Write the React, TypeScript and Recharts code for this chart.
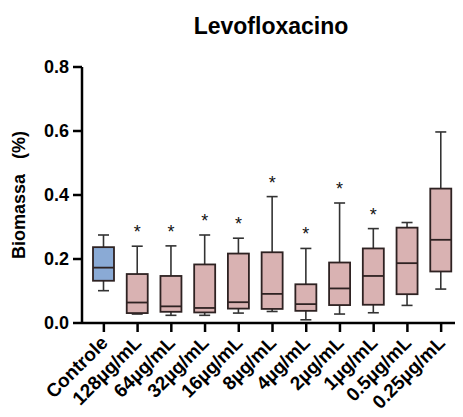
import React from 'react';
import { ComposedChart, Bar, XAxis, YAxis, Label } from 'recharts';

const categories = ['Controle', '128µg/mL', '64µg/mL', '32µg/mL', '16µg/mL', '8µg/mL', '4µg/mL', '2µg/mL', '1µg/mL', '0.5µg/mL', '0.25µg/mL'];
const mins = [0.101, 0.028, 0.024, 0.024, 0.031, 0.036, 0.010, 0.028, 0.032, 0.055, 0.106];
const q1s = [0.132, 0.031, 0.035, 0.033, 0.045, 0.044, 0.038, 0.056, 0.057, 0.090, 0.161];
const medians = [0.173, 0.064, 0.052, 0.047, 0.065, 0.091, 0.059, 0.108, 0.147, 0.187, 0.260];
const q3s = [0.237, 0.153, 0.147, 0.183, 0.217, 0.221, 0.121, 0.189, 0.233, 0.298, 0.420];
const maxs = [0.275, 0.240, 0.241, 0.275, 0.265, 0.395, 0.233, 0.375, 0.295, 0.314, 0.597];
const significant = [false, true, true, true, true, true, true, true, true, false, false];
const yTicks = [0, 0.2, 0.4, 0.6, 0.8];

const data = categories.map((name, i) => ({
  name,
  min: mins[i],
  q1: q1s[i],
  median: medians[i],
  q3: q3s[i],
  max: maxs[i],
  sig: significant[i],
  range: [mins[i], maxs[i]],
}));

const FONT = '"Liberation Sans", Arial, Helvetica, sans-serif';

const BoxShape = (props: any) => {
  const { x, y, width, height, payload, index } = props;
  if (!payload) return null;
  const top = Math.min(y, y + height);
  const bottom = Math.max(y, y + height);
  const { min, max, q1, q3, median, sig } = payload;
  const pix = (v: number) => bottom - ((v - min) / (max - min)) * (bottom - top);
  const cx = x + width / 2;
  const capW = 11;
  const fill = index === 0 ? '#8aaad5' : '#d9b2b2';
  const stroke = '#2e2222';
  return (
    <g>
      <line x1={cx} x2={cx} y1={pix(max)} y2={pix(q3)} stroke="#333" strokeWidth={1.6} />
      <line x1={cx} x2={cx} y1={pix(q1)} y2={pix(min)} stroke="#333" strokeWidth={1.6} />
      <line x1={cx - capW / 2} x2={cx + capW / 2} y1={pix(max)} y2={pix(max)} stroke="#333" strokeWidth={1.6} />
      <line x1={cx - capW / 2} x2={cx + capW / 2} y1={pix(min)} y2={pix(min)} stroke="#333" strokeWidth={1.6} />
      <rect x={x} y={pix(q3)} width={width} height={pix(q1) - pix(q3)} fill={fill} stroke={stroke} strokeWidth={1.8} />
      <line x1={x} x2={x + width} y1={pix(median)} y2={pix(median)} stroke={stroke} strokeWidth={1.8} />
      {sig && (
        <text x={cx} y={pix(max) - 8} textAnchor="middle" fontFamily={FONT} fontSize={18} fill="#111">*</text>
      )}
    </g>
  );
};

const XTick = (props: any) => {
  const { x, y, payload } = props;
  return (
    <g transform={`translate(${x + 5},${y + 10})`}>
      <text x={0} y={0} textAnchor="end" transform="rotate(-45)" fontFamily={FONT} fontWeight="bold" fontSize={19} fill="#000">
        {payload.value}
      </text>
    </g>
  );
};

export default function App() {
  return (
    <div style={{ position: 'relative', width: 455, height: 409 }}>
      <div
        style={{
          position: 'absolute',
          left: 0,
          width: 526,
          top: 5,
          textAlign: 'center',
          fontFamily: FONT,
          fontWeight: 'bold',
          fontSize: 23,
          color: '#000',
          lineHeight: '26px',
        }}
      >
        Levofloxacino
      </div>
      <ComposedChart width={455} height={409} data={data} margin={{ top: 59, right: 0, bottom: 0, left: 0 }}>
        <XAxis
          dataKey="name"
          interval={0}
          padding={{ left: 5, right: 5 }}
          height={94}
          axisLine={{ stroke: '#000', strokeWidth: 2.5 }}
          tickLine={{ stroke: '#000', strokeWidth: 2.5 }}
          tickSize={9}
          tick={<XTick />}
        />
        <YAxis
          domain={[0, 0.8]}
          ticks={yTicks}
          width={74}
          interval={0}
          tickFormatter={(v: number) => v.toFixed(1)}
          axisLine={{ stroke: '#000', strokeWidth: 2.5 }}
          tickLine={{ stroke: '#000', strokeWidth: 2.5 }}
          tickSize={9}
          tickMargin={4}
          tick={{ fill: '#000', fontFamily: FONT, fontWeight: 'bold', fontSize: 18 }}
        >
          <Label
            content={(p: any) => {
              const vb = p.viewBox || {};
              const cy = vb.y + vb.height / 2;
              return (
                <text
                  x={17}
                  y={cy}
                  transform={`rotate(-90, 17, ${cy})`}
                  textAnchor="middle"
                  fontFamily={FONT}
                  fontWeight="bold"
                  fontSize={18}
                  fill="#000"
                  style={{ whiteSpace: 'pre' }}
                >
                  {'Biomassa   (%)'}
                </text>
              );
            }}
          />
        </YAxis>
        <Bar dataKey="range" barSize={21} shape={<BoxShape />} isAnimationActive={false} />
      </ComposedChart>
    </div>
  );
}
